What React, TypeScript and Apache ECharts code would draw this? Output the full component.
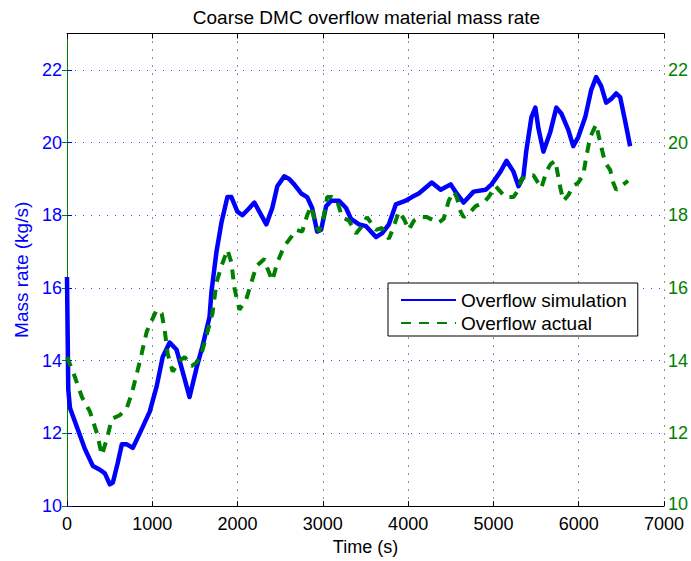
import React, { useEffect, useRef } from "react";
import * as echarts from "echarts";

// Overflow simulation: time (s) and mass rate (kg/s)
const simTime = [
  0, 15, 35, 210, 304, 386, 444, 502, 538, 596, 643, 701, 771, 853, 970, 1052,
  1122, 1204, 1285, 1356, 1437, 1519, 1589, 1671, 1694, 1753, 1811, 1881, 1928,
  1998, 2057, 2139, 2197, 2255, 2337, 2407, 2466, 2547, 2606, 2664, 2746, 2816,
  2875, 2933, 2980, 3038, 3097, 3190, 3272, 3330, 3424, 3506, 3623, 3693, 3775,
  3856, 3973, 4043, 4125, 4277, 4382, 4499, 4569, 4651, 4768, 4908, 4978, 5083,
  5153, 5235, 5294, 5352, 5387, 5446, 5492, 5527, 5586, 5668, 5738, 5796, 5878,
  5936, 5995, 6077, 6147, 6205, 6264, 6322, 6381, 6439, 6486, 6544, 6603,
];
const simRate = [
  16.3, 13.2, 12.7, 11.57, 11.1, 11.0, 10.9, 10.6, 10.65, 11.2, 11.7, 11.7, 11.6,
  12.0, 12.6, 13.3, 14.1, 14.5, 14.3, 13.7, 13.0, 13.8, 14.4, 15.2, 15.9, 17.0,
  17.8, 18.5, 18.5, 18.1, 18.0, 18.2, 18.35, 18.1, 17.75, 18.2, 18.8, 19.07, 19.0,
  18.85, 18.6, 18.5, 18.2, 17.55, 17.6, 18.25, 18.4, 18.4, 18.2, 17.9, 17.75,
  17.7, 17.4, 17.5, 17.75, 18.3, 18.4, 18.5, 18.6, 18.9, 18.7, 18.85, 18.6, 18.35,
  18.65, 18.7, 18.85, 19.2, 19.5, 19.2, 18.8, 19.07, 19.8, 20.7, 20.96, 20.4,
  19.75, 20.3, 20.96, 20.8, 20.35, 19.9, 20.15, 20.7, 21.45, 21.8, 21.55, 21.1,
  21.2, 21.35, 21.25, 20.6, 19.9,
];

// Overflow actual: time (s) and mass rate (kg/s)
const actTime = [
  0, 70, 175, 269, 351, 409, 467, 526, 619, 701, 760, 830, 876, 935, 993, 1052,
  1110, 1145, 1180, 1239, 1321, 1379, 1461, 1519, 1578, 1648, 1706, 1753, 1811,
  1881, 1928, 1963, 2022, 2103, 2162, 2220, 2314, 2349, 2407, 2466, 2547, 2629,
  2688, 2758, 2816, 2863, 2921, 2957, 3015, 3050, 3108, 3167, 3225, 3307, 3389,
  3459, 3517, 3623, 3693, 3775, 3833, 3891, 3950, 4008, 4067, 4149, 4219, 4359,
  4417, 4476, 4534, 4569, 4616, 4651, 4733, 4791, 4885, 4943, 5025, 5083, 5142,
  5235, 5294, 5329, 5411, 5469, 5562, 5621, 5668, 5726, 5785, 5820, 5878, 5936,
  5995, 6053, 6088, 6135, 6205, 6252, 6310, 6369, 6404, 6439, 6497, 6579,
];
const actRate = [
  14.1, 13.7, 13.0, 12.6, 12.0, 11.4, 11.85, 12.4, 12.5, 12.7, 13.1, 13.75, 14.2,
  14.8, 15.1, 15.4, 15.3, 14.85, 14.2, 13.7, 14.0, 14.1, 13.85, 13.95, 14.2, 14.8,
  15.3, 16.15, 16.6, 17.05, 16.7, 16.0, 15.4, 15.7, 16.15, 16.6, 16.8, 16.55, 16.2,
  16.7, 17.15, 17.4, 17.6, 17.55, 18.0, 18.25, 17.7, 17.55, 18.0, 18.5, 18.5, 18.4,
  17.95, 17.85, 17.5, 17.7, 17.95, 17.6, 17.65, 17.35, 17.7, 18.1, 17.9, 17.6,
  17.85, 17.95, 17.95, 17.8, 17.9, 18.4, 18.65, 18.5, 18.1, 17.95, 18.1, 18.25,
  18.35, 18.5, 18.8, 18.65, 18.5, 18.5, 18.7, 19.0, 19.1, 19.1, 18.75, 19.2, 19.4,
  19.5, 18.75, 18.4, 18.55, 18.8, 18.9, 19.1, 19.6, 20.15, 20.5, 20.0, 19.45,
  19.25, 18.9, 18.7, 18.8, 18.95,
];

const xTicks = { min: 0, max: 7000, interval: 1000 };
const yTicks = { min: 10, max: 23, interval: 2 };

const FONT = "'Liberation Sans', Arial, sans-serif";
const BLUE = "#0000ff";
const GREEN = "#008000";

const zip = (t: number[], v: number[]) => t.map((x, i) => [x, v[i]]);

export default function App() {
  const ref = useRef<HTMLDivElement>(null);

  useEffect(() => {
    if (!ref.current) return;
    const chart = echarts.init(ref.current, undefined, { renderer: "svg" });

    const yAxisBase = (color: string, position: "left" | "right") => ({
      type: "value" as const,
      position,
      ...yTicks,
      axisLine: { show: true, lineStyle: { color, width: 1 } },
      axisTick: { show: true, inside: true, length: 5, lineStyle: { color } },
      axisLabel: {
        color,
        fontSize: 18,
        lineHeight: 14,
        fontFamily: FONT,
        margin: position === "left" ? 5 : 4,
        showMaxLabel: false,
        // the lowest right-hand label sits just above the corner tick label
        formatter:
          position === "right"
            ? (v: number) => (v === yTicks.min ? `{lo|${v}}` : String(v))
            : (v: number) => String(v),
        rich: {
          lo: { color, fontSize: 18, fontFamily: FONT, lineHeight: 14, padding: [0, 0, 5, 0] },
        },
      },
    });

    chart.setOption({
      animation: false,
      backgroundColor: "#fff",
      grid: { left: 67, right: 25, top: 33.5, bottom: 54, containLabel: false },
      graphic: [
        {
          type: "text",
          x: 366.5,
          y: 17,
          style: {
            text: "Coarse DMC overflow material mass rate",
            fill: "#000",
            font: `19px ${FONT}`,
            align: "center",
            verticalAlign: "middle",
          },
        },
      ],
      legend: {
        orient: "vertical",
        left: 388,
        top: 283,
        data: ["Overflow simulation", "Overflow actual"],
        backgroundColor: "#fff",
        borderColor: "#000",
        borderWidth: 1,
        borderRadius: 0,
        padding: [7.5, 11, 3.5, 12],
        itemWidth: 55,
        itemHeight: 14,
        itemGap: 4,
        itemStyle: { opacity: 0 },
        textStyle: { fontSize: 19, fontFamily: FONT, color: "#000", lineHeight: 19 },
      },
      xAxis: [
        {
          type: "value",
          position: "bottom",
          ...xTicks,
          name: "Time (s)",
          nameLocation: "middle",
          nameGap: 31,
          nameTextStyle: { fontSize: 18, fontFamily: FONT, color: "#000" },
          axisLine: { show: true, lineStyle: { color: "#000", width: 1 } },
          axisTick: { show: true, inside: true, length: 5, lineStyle: { color: "#000" } },
          axisLabel: {
            color: "#000",
            fontSize: 18,
            fontFamily: FONT,
            margin: 9,
            formatter: (v: number) => String(v),
          },
          splitLine: {
            show: true,
            lineStyle: { color: "#222", width: 1, type: [1, 7] },
          },
        },
        {
          type: "value",
          position: "top",
          ...xTicks,
          axisLine: { show: true, lineStyle: { color: "#000", width: 1 } },
          axisTick: { show: true, inside: true, length: 5, lineStyle: { color: "#000" } },
          axisLabel: { show: false },
          splitLine: { show: false },
        },
      ],
      yAxis: [
        {
          ...yAxisBase(BLUE, "left"),
          name: "Mass rate (kg/s)",
          nameLocation: "middle",
          nameGap: 35,
          nameTextStyle: { fontSize: 19, fontFamily: FONT, color: BLUE },
          splitLine: {
            show: true,
            lineStyle: { color: "rgba(0,0,255,0.75)", width: 1, type: [1, 7] },
          },
        },
        {
          ...yAxisBase(GREEN, "right"),
          splitLine: { show: false },
        },
      ],
      series: [
        {
          name: "Overflow simulation",
          type: "line",
          xAxisIndex: 0,
          yAxisIndex: 0,
          data: zip(simTime, simRate),
          symbol: "none",
          showSymbol: false,
          lineStyle: { color: BLUE, width: 4.5, join: "round" },
          itemStyle: { color: BLUE },
        },
        {
          name: "Overflow actual",
          type: "line",
          xAxisIndex: 0,
          yAxisIndex: 1,
          data: zip(actTime, actRate),
          symbol: "none",
          showSymbol: false,
          lineStyle: { color: GREEN, width: 4, type: [10, 8] },
          itemStyle: { color: GREEN },
        },
      ],
    });

    return () => chart.dispose();
  }, []);

  return (
    <div
      ref={ref}
      style={{ position: "fixed", left: 0, top: 0, width: 691, height: 561, background: "#fff" }}
    />
  );
}
